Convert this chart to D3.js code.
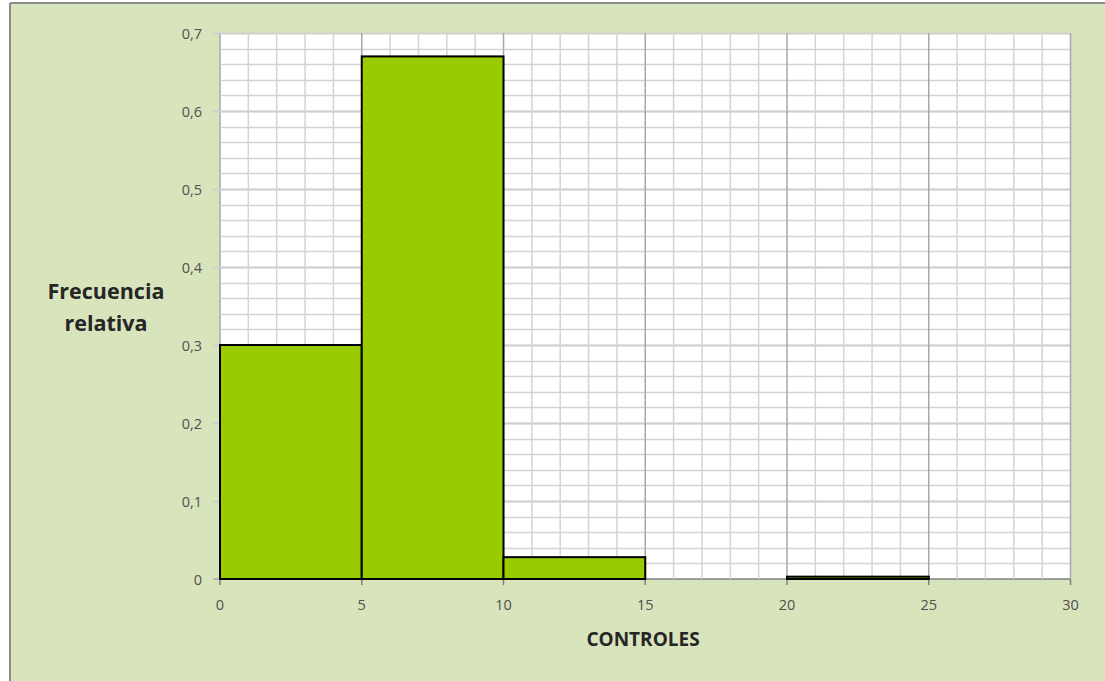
<!DOCTYPE html>
<html><head><meta charset="utf-8">
<script src="https://cdn.jsdelivr.net/npm/d3@7"></script>
<style>html,body{margin:0;padding:0;background:#fff;}svg{display:block;}</style>
</head><body>
<svg id="c" width="1105" height="681"></svg>
<script>
const binStarts = [0, 5, 10, 15, 20, 25];
const binEnds   = [5, 10, 15, 20, 25, 30];
const relFreq   = [0.30, 0.67, 0.028, 0, 0.003, 0];
const xTicks = [0, 5, 10, 15, 20, 25, 30];
const yTicks = [0, 0.1, 0.2, 0.3, 0.4, 0.5, 0.6, 0.7];
const xLabel = "CONTROLES";
const yLabelLines = ["Frecuencia", "relativa"];

const svg = d3.select("#c");
const W = 1105, H = 681;
const FONT = "'Open Sans', 'Noto Sans', sans-serif";
// panel
svg.append("rect").attr("x", 10).attr("y", 3).attr("width", W - 10).attr("height", H - 3)
  .attr("fill", "#d8e4bc").attr("stroke", "none");
svg.append("line").attr("x1", 10).attr("x2", W).attr("y1", 3).attr("y2", 3).attr("stroke", "#8a8a8a").attr("stroke-width", 2);
svg.append("line").attr("x1", 10).attr("x2", 10).attr("y1", 3).attr("y2", H).attr("stroke", "#8a8a8a").attr("stroke-width", 2);

const x = d3.scaleLinear().domain([0, 30]).range([220, 1070.5]);
const y = d3.scaleLinear().domain([0, 0.7]).range([579, 33]);

// plot area
svg.append("rect").attr("x", x(0)).attr("y", y(0.7)).attr("width", x(30) - x(0)).attr("height", y(0) - y(0.7)).attr("fill", "#fff");

const g = svg.append("g");
// minor horizontal grid
const hMinor = d3.range(1, 35).map(i => i * 0.02);
g.selectAll(".hm").data(hMinor).enter().append("line")
  .attr("x1", x(0)).attr("x2", x(30))
  .attr("y1", d => Math.round(y(d)) + 0.5).attr("y2", d => Math.round(y(d)) + 0.5)
  .attr("stroke", "#d4d4d4").attr("stroke-width", 1.5);
// major horizontal grid (with left tick)
g.selectAll(".hM").data(yTicks.slice(1)).enter().append("line")
  .attr("x1", x(0) - 7).attr("x2", x(30))
  .attr("y1", d => Math.round(y(d)) + 0.5).attr("y2", d => Math.round(y(d)) + 0.5)
  .attr("stroke", "#cfcfcf").attr("stroke-width", 2);
// minor vertical grid
const vMinor = d3.range(1, 30).filter(v => v % 5 !== 0);
g.selectAll(".vm").data(vMinor).enter().append("line")
  .attr("x1", d => x(d)).attr("x2", d => x(d))
  .attr("y1", y(0.7)).attr("y2", y(0))
  .attr("stroke", "#d4d4d4").attr("stroke-width", 1.5);
// major vertical grid
g.selectAll(".vM").data(xTicks.slice(1)).enter().append("line")
  .attr("x1", d => x(d)).attr("x2", d => x(d))
  .attr("y1", y(0.7)).attr("y2", y(0))
  .attr("stroke", "#a8a8a8").attr("stroke-width", 1.5);

// bars
const bins = binStarts.map((s, i) => ({ s, e: binEnds[i], v: relFreq[i] }));
g.selectAll(".bar").data(bins.filter(d => d.v > 0)).enter().append("rect")
  .attr("x", d => x(d.s)).attr("y", d => y(d.v))
  .attr("width", d => x(d.e) - x(d.s)).attr("height", d => y(0) - y(d.v))
  .attr("fill", "#99cc00").attr("stroke", "#000").attr("stroke-width", 2);

// x axis line
svg.append("line").attr("x1", x(0)).attr("x2", x(30)).attr("y1", y(0)).attr("y2", y(0))
  .attr("stroke", "#7f7f7f").attr("stroke-width", 1.5);
svg.selectAll(".xt").data(xTicks).enter().append("line")
  .attr("x1", d => x(d)).attr("x2", d => x(d)).attr("y1", y(0)).attr("y2", y(0) + 6)
  .attr("stroke", "#7f7f7f").attr("stroke-width", 1.5);
svg.append("line").attr("x1", x(0) - 7).attr("x2", x(0)).attr("y1", y(0)).attr("y2", y(0))
  .attr("stroke", "#a8a8a8").attr("stroke-width", 1.5);
// y axis left line
svg.append("line").attr("x1", x(0)).attr("x2", x(0)).attr("y1", y(0.7)).attr("y2", y(0))
  .attr("stroke", "#a8a8a8").attr("stroke-width", 1.5);
// redraw bar over axis for the thin 20-25 bin
g.raise();

const fmt = d => d === 0 ? "0" : d3.format(".1f")(d).replace(".", ",");
svg.selectAll(".yl").data(yTicks).enter().append("text")
  .attr("x", 202).attr("y", d => y(d) + 5.5)
  .attr("text-anchor", "end").attr("font-family", FONT)
  .attr("font-size", 14.5).attr("fill", "#505050").text(fmt);
svg.selectAll(".xl").data(xTicks).enter().append("text")
  .attr("x", d => x(d)).attr("y", 609.5)
  .attr("text-anchor", "middle").attr("font-family", FONT)
  .attr("font-size", 14.5).attr("fill", "#505050").text(d => d);

svg.append("text").attr("x", 643).attr("y", 646).attr("text-anchor", "middle")
  .attr("font-family", FONT).attr("font-weight", "bold")
  .attr("font-size", 19).attr("fill", "#262626").text(xLabel);
svg.selectAll(".yt").data(yLabelLines).enter().append("text")
  .attr("x", 106).attr("y", (d, i) => 299 + i * 32).attr("text-anchor", "middle")
  .attr("font-family", FONT).attr("font-weight", "bold")
  .attr("font-size", 21.5).attr("fill", "#262626").text(d => d);
</script>
</body></html>
